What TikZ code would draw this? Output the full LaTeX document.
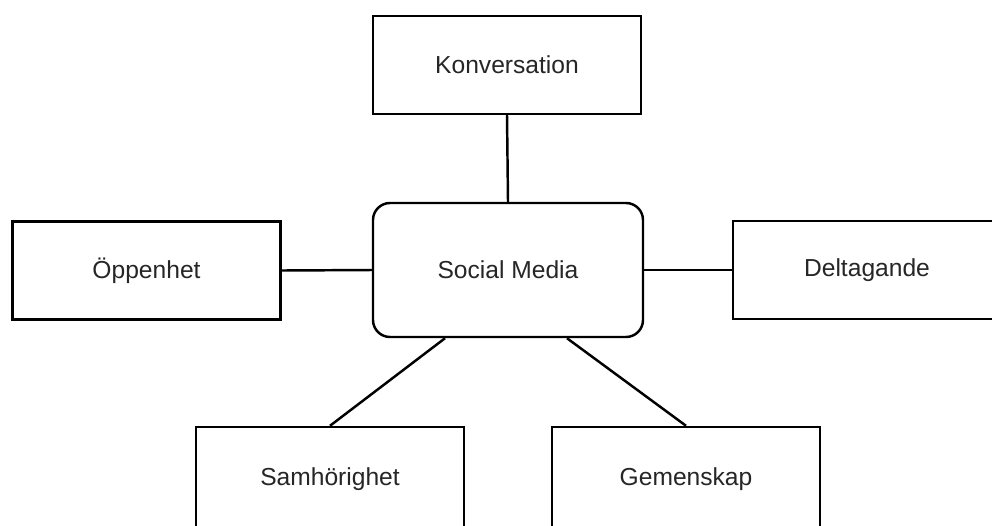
\documentclass[tikz,border=0pt]{standalone}
\usepackage{fontspec}
\setmainfont{Liberation Sans}
\usetikzlibrary{calc}

\tikzset{
  termbox/.style={draw=black, line width=1.4pt, fill=white,
                  minimum width=5.36cm, minimum height=1.96cm,
                  inner sep=0pt, text=black!85,
                  font=\fontsize{14}{16}\selectfont},
  hubbox/.style={termbox, rounded corners=0.34cm,
                 minimum width=5.4cm, minimum height=2.68cm},
  link/.style={line width=1.4pt, draw=black}
}

\begin{document}
\begin{tikzpicture}
      \useasboundingbox (0,0) rectangle (19.84,-10.5);
      % centre
      \node[hubbox] (social) at (10.16,-5.4) {Social Media};
      % surrounding terms
      \node[termbox] (konv) at (10.14,-1.3) {Konversation};
      \node[termbox] (oppen) at (2.93,-5.41) {Öppenhet};
      \node[termbox] (delta) at (17.34,-5.4) {Deltagande};
      \node[termbox, minimum height=2.1cm] (samh) at (6.6,-9.59) {Samhörighet};
      \node[termbox, minimum height=2.1cm] (gemen) at (13.72,-9.59) {Gemenskap};
      % connectors
      \draw[link] (konv.south) -- (social.north);
      \draw[link] (oppen.east) -- (social.west);
      \draw[link] (social.east) -- (delta.west);
      \draw[link] ([xshift=-1.26cm]social.south) -- (samh.north);
      \draw[link] ([xshift=1.18cm]social.south) -- (gemen.north);
    \end{tikzpicture}
\end{document}
